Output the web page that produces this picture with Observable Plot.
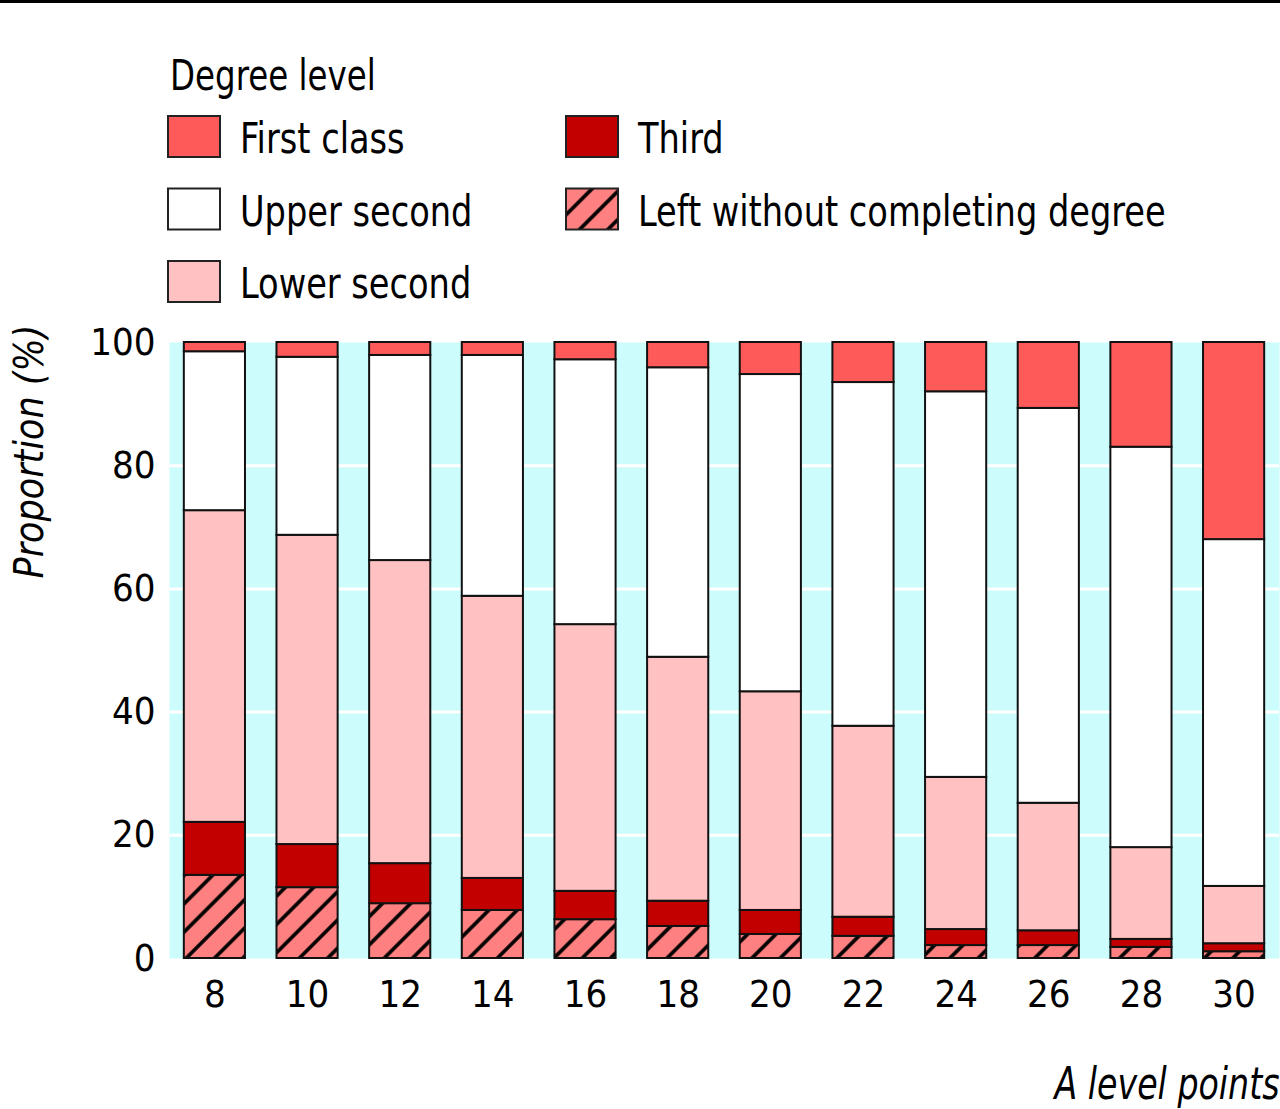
<!DOCTYPE html>
<html>
<head>
<meta charset="utf-8">
<script src="https://cdn.jsdelivr.net/npm/d3@7"></script>
<script src="https://cdn.jsdelivr.net/npm/@observablehq/plot@0.6"></script>
<style>
  html, body { margin: 0; padding: 0; background: #fff; }
  body { width: 1280px; height: 1109px; overflow: hidden; font-family: "Liberation Sans Narrow", "DejaVu Sans Condensed", sans-serif; }
  #topline { width: 1280px; height: 3px; background: #000; }
  #legend { display: block; }
  #chart svg { display: block; }
</style>
</head>
<body>
<div id="topline"></div>
<svg id="legend" width="1280" height="307"></svg>
<div id="chart"></div>
<script>
// ---- data ----
const points = [8, 10, 12, 14, 16, 18, 20, 22, 24, 26, 28, 30];
const categories = ["Left without completing degree", "Third", "Lower second", "Upper second", "First class"];
const leftWithout = [13.5, 11.5, 8.9, 7.8, 6.3, 5.2, 3.9, 3.6, 2.1, 2.1, 1.8, 1.1];
const third       = [8.6, 7.0, 6.5, 5.2, 4.6, 4.1, 3.9, 3.1, 2.6, 2.4, 1.3, 1.3];
const lowerSecond = [50.6, 50.2, 49.2, 45.8, 43.3, 39.6, 35.5, 31.0, 24.7, 20.7, 14.9, 9.3];
const upperSecond = [25.8, 28.9, 33.3, 39.1, 43.0, 47.0, 51.5, 55.8, 62.6, 64.1, 65.0, 56.3];
const firstClass  = [1.5, 2.4, 2.1, 2.1, 2.8, 4.1, 5.2, 6.5, 8.0, 10.7, 17.0, 32.0];
const yTicks = [0, 20, 40, 60, 80, 100];
const gridValues = [20, 40, 60, 80];
const legendOrder = [["First class", "Third"], ["Upper second", "Left without completing degree"], ["Lower second", null]];

const seriesValues = [leftWithout, third, lowerSecond, upperSecond, firstClass];
const data = [];
points.forEach((p, i) => {
  categories.forEach((c, k) => data.push({points: p, degree: c, value: seriesValues[k][i]}));
});

const fills = {
  "First class": "#ff5a5a",
  "Upper second": "#ffffff",
  "Lower second": "#ffc1c1",
  "Third": "#c20000",
  "Left without completing degree": "url(#hatchChart)"
};

const FONT = '"Liberation Sans Narrow", "DejaVu Sans Condensed", sans-serif';

// horizontally condense a text element (mimics the narrow typeface)
function condense(el, s) {
  const t = d3.select(el);
  const tr = t.attr("transform");
  if (tr) {
    t.attr("transform", tr + ` scale(${s},1)`);
  } else {
    const x = +t.attr("x") || 0, y = +t.attr("y") || 0;
    t.attr("x", null).attr("y", null).attr("transform", `translate(${x},${y}) scale(${s},1)`);
  }
}

// ---- legend ----
const leg = d3.select("#legend");
const defsL = leg.append("defs");
function addHatch(defs, id) {
  const p = defs.append("pattern").attr("id", id).attr("patternUnits", "userSpaceOnUse")
    .attr("width", 20).attr("height", 20).attr("patternTransform", "rotate(45)");
  p.append("rect").attr("width", 20).attr("height", 20).attr("fill", "#ff8080");
  p.append("line").attr("x1", 10).attr("y1", -2).attr("x2", 10).attr("y2", 22)
    .attr("stroke", "#000").attr("stroke-width", 3.6);
}
addHatch(defsL, "hatchLegend");
leg.append("text").attr("font-family", FONT).attr("font-size", 42).attr("fill", "#000")
  .attr("transform", "translate(170,87) scale(0.86,1)").text("Degree level");
legendOrder.forEach((row, r) => {
  row.forEach((name, c) => {
    if (!name) return;
    const x = c === 0 ? 168 : 566;
    const y = 113 + r * 72.5;
    leg.append("rect").attr("x", x).attr("y", y).attr("width", 52).attr("height", 41)
      .attr("fill", name === "Left without completing degree" ? "url(#hatchLegend)" : fills[name])
      .attr("stroke", "#222").attr("stroke-width", 2);
    leg.append("text").attr("font-family", FONT).attr("font-size", 42).attr("fill", "#000")
      .attr("transform", `translate(${x + 72},${y + 37}) scale(0.89,1)`).text(name);
  });
});

// ---- chart ----
const chart = Plot.plot({
  width: 1280,
  height: 799,
  marginTop: 32,
  marginBottom: 151,
  marginLeft: 169,
  marginRight: 1,
  style: {fontFamily: FONT, fontSize: "38px", color: "#000", background: "transparent"},
  x: {type: "band", domain: points, paddingInner: 0.34, paddingOuter: 0.16, round: false, label: null},
  y: {domain: [0, 100], label: null},
  color: {domain: categories, range: categories.map(c => fills[c])},
  marks: [
    Plot.frame({fill: "#cdfcfc", stroke: null}),
    Plot.ruleY(gridValues, {stroke: "#fff", strokeWidth: 3}),
    Plot.barY(data, {x: "points", y: "value", fill: "degree", order: categories, stroke: "#111", strokeWidth: 2}),
    Plot.axisY({ticks: yTicks, tickSize: 0, tickPadding: 14, label: null, fontSize: 38}),
    Plot.axisX({tickSize: 0, tickPadding: 22, label: null, fontSize: 38}),
    Plot.text(["Proportion (%)"], {frameAnchor: "top-left", dx: -156, dy: 109, rotate: -90,
      textAnchor: "middle", fontStyle: "italic", fontSize: 41, fill: "#000"}),
    Plot.text(["A level points"], {frameAnchor: "bottom-right", dx: 0, dy: 140, textAnchor: "end",
      lineAnchor: "bottom", fontStyle: "italic", fontSize: 44, fill: "#000"})
  ]
});
d3.select(chart).selectAll("text").each(function() {
  const s = this.textContent;
  if (s === "Proportion (%)") condense(this, 0.95);
  else if (s === "A level points") condense(this, 0.84);
});
const defsC = d3.select(chart).insert("defs", ":first-child");
addHatch(defsC, "hatchChart");
document.getElementById("chart").appendChild(chart);
</script>
</body>
</html>
